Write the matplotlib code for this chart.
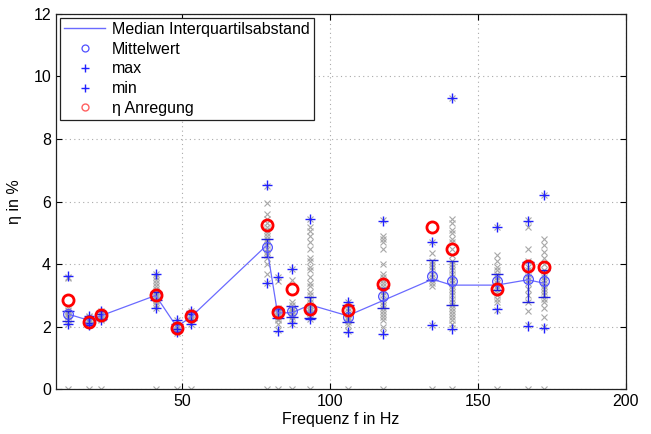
import matplotlib
matplotlib.use("Agg")
import matplotlib.pyplot as plt
import numpy as np
from matplotlib.lines import Line2D

plt.rcParams['font.family'] = ['Liberation Sans', 'DejaVu Sans']

# Frequenzen der Messpunkte in Hz
freq = [11.6, 18.7, 22.6, 41.1, 48.2, 52.9, 78.6, 82.3, 87.3, 93.3,
        106.0, 117.8, 134.7, 141.2, 156.4, 166.9, 172.5]

median = [2.40, 2.20, 2.35, 3.00, 2.00, 2.30, 4.60, 2.44, 2.45, 2.70,
          2.35, 2.83, 3.52, 3.33, 3.33, 3.50, 3.39]
q1 = [2.18, 2.12, 2.25, 2.85, 1.92, 2.22, 4.24, 2.28, 2.32, 2.27,
      2.16, 2.59, 3.50, 2.70, 3.18, 2.80, 2.94]
q3 = [2.50, 2.28, 2.42, 3.12, 2.08, 2.40, 4.81, 2.57, 2.66, 2.96,
      2.70, 3.23, 4.13, 4.10, 3.68, 4.06, 3.81]
mittel = [2.40, 2.20, 2.38, 3.00, 1.98, 2.32, 4.56, 2.45, 2.50, 2.60,
          2.32, 2.98, 3.63, 3.46, 3.46, 3.53, 3.47]
maxv = [3.62, 2.35, 2.50, 3.70, 2.20, 2.50, 6.53, 3.60, 3.85, 5.44,
        2.80, 5.39, 4.70, 9.31, 5.20, 5.39, 6.21]
minv = [2.08, 2.05, 2.20, 2.60, 1.82, 2.10, 3.39, 1.86, 2.11, 2.25,
        1.82, 1.77, 2.06, 1.93, 2.57, 2.03, 1.97]
anregung = [2.85, 2.15, 2.38, 3.00, 1.95, 2.35, 5.25, 2.48, 3.21, 2.57,
            2.54, 3.37, 5.20, 4.50, 3.21, 3.94, 3.92]

# Einzelmessungen (graue Kreuze)
einzel = [
    [0, 2.1, 2.2, 2.3, 2.35, 2.4, 2.45, 2.5, 2.55, 2.6, 3.55, 3.6],
    [0, 2.05, 2.1, 2.15, 2.2, 2.2, 2.25, 2.3, 2.35],
    [0, 2.2, 2.25, 2.3, 2.35, 2.4, 2.45, 2.5],
    [0, 2.6, 2.7, 2.8, 2.85, 2.9, 2.95, 3.0, 3.05, 3.1, 3.15, 3.2, 3.3, 3.4, 3.5, 3.6, 3.7],
    [0, 1.8, 1.85, 1.9, 1.95, 2.0, 2.05, 2.1, 2.2],
    [0, 2.1, 2.2, 2.25, 2.3, 2.35, 2.4, 2.5],
    [0, 3.4, 3.7, 4.0, 4.2, 4.3, 4.4, 4.5, 4.6, 4.7, 4.8, 4.9, 5.0, 5.1, 5.2, 5.3, 5.45, 5.6, 5.95, 6.5],
    [0, 1.9, 2.1, 2.2, 2.25, 2.3, 2.35, 2.4, 2.45, 2.5, 2.55, 2.6, 3.45, 3.6],
    [0, 2.1, 2.2, 2.3, 2.4, 2.45, 2.5, 2.55, 2.6, 2.7, 2.8, 3.5, 3.85],
    [0, 2.25, 2.35, 2.45, 2.5, 2.55, 2.6, 2.7, 2.8, 2.9, 3.0, 3.1, 3.3, 3.4, 3.6, 3.8, 3.9,
     4.1, 4.2, 4.5, 4.7, 4.9, 5.05, 5.2, 5.45],
    [0, 1.85, 2.05, 2.15, 2.2, 2.25, 2.3, 2.4, 2.5, 2.6, 2.7, 2.8],
    [0, 1.8, 2.0, 2.2, 2.3, 2.4, 2.5, 2.6, 2.7, 2.8, 2.9, 3.0, 3.1, 3.2, 3.3, 3.4, 3.5, 3.6,
     3.7, 4.0, 4.5, 4.7, 4.8, 4.9, 5.4],
    [0, 2.05, 3.3, 3.4, 3.5, 3.6, 3.7, 3.8, 3.9, 4.0, 4.1, 4.35, 4.7],
    [0, 1.95, 2.1, 2.2, 2.3, 2.4, 2.5, 2.6, 2.7, 2.8, 2.9, 3.0, 3.1, 3.2, 3.3, 3.4, 3.5, 3.6,
     3.7, 3.8, 3.9, 4.0, 4.1, 4.3, 4.5, 4.7, 4.8, 5.0, 5.1, 5.3, 5.45, 9.3],
    [0, 2.55, 2.8, 2.9, 3.0, 3.1, 3.2, 3.3, 3.4, 3.5, 3.6, 3.7, 3.8, 3.9, 4.1, 4.3, 5.2],
    [0, 2.05, 2.5, 2.8, 3.0, 3.2, 3.4, 3.5, 3.6, 3.7, 3.8, 3.9, 4.1, 4.5, 5.2, 5.4],
    [0, 2.0, 2.3, 2.6, 2.8, 2.9, 3.0, 3.1, 3.2, 3.3, 3.4, 3.5, 3.6, 3.7, 3.8, 4.0, 4.2, 4.4,
     4.6, 4.8, 6.2],
]

fig = plt.figure(figsize=(6.51, 4.34), dpi=100)
ax = fig.add_axes([0.086, 0.103, 0.875, 0.865])

# graue Einzelwerte
for f, vals in zip(freq, einzel):
    ax.plot([f] * len(vals), vals, 'x', color='#a8a8a8', ms=5, mew=0.8, zorder=2)

f_arr = np.array(freq)
med = np.array(median)
ax.errorbar(f_arr, med, yerr=[med - np.array(q1), np.array(q3) - med],
            fmt='none', ecolor='#2020e0', elinewidth=1.0, capsize=4, capthick=1.0, zorder=3)
ax.plot(f_arr, med, '-', color='#6a6aff', lw=0.9, zorder=3)
ax.plot(freq, mittel, 'o', mfc='none', mec='#5050ff', ms=7, mew=0.9, zorder=4)
ax.plot(freq, maxv, '+', color='#2020ff', ms=7, mew=1.0, zorder=4)
ax.plot(freq, minv, '+', color='#2020ff', ms=7, mew=1.0, zorder=4)
ax.plot(freq, anregung, 'o', mfc='none', mec='#ff0000', ms=8, mew=2.0, zorder=5)

ax.set_xlim(7.4, 200)
ax.set_ylim(0, 12)
ax.set_xticks([50, 100, 150, 200])
ax.set_yticks(range(0, 13, 2))
ax.tick_params(direction='in', top=True, right=True, labelsize=11.5, length=4, width=0.8)
ax.grid(True, linestyle=(0, (1, 3)), color='#aaaaaa', lw=0.8)
for s in ax.spines.values():
    s.set_color('#222222')
    s.set_linewidth(0.9)

ax.set_xlabel('Frequenz f in Hz', fontsize=11.5, labelpad=2)
ax.set_ylabel('η in %', fontsize=11.5, labelpad=8)

handles = [
    Line2D([], [], color='#6a6aff', lw=1.0),
    Line2D([], [], ls='none', marker='o', mfc='none', mec='#5050ff', ms=5, mew=0.9),
    Line2D([], [], ls='none', marker='+', color='#2020ff', ms=6, mew=1.0),
    Line2D([], [], ls='none', marker='+', color='#2020ff', ms=6, mew=1.0),
    Line2D([], [], ls='none', marker='o', mfc='none', mec='#ff6060', ms=5, mew=1.0),
]
labels = ['Median Interquartilsabstand', 'Mittelwert', 'max', 'min', 'η Anregung']
leg = ax.legend(handles, labels, loc='upper left', fontsize=11.5, fancybox=False,
                framealpha=1, edgecolor='#222222', borderpad=0.25, labelspacing=0.3,
                handlelength=2.6, handletextpad=0.4, borderaxespad=0.25)
leg.get_frame().set_linewidth(0.9)

fig.savefig('out.png', dpi=100)
